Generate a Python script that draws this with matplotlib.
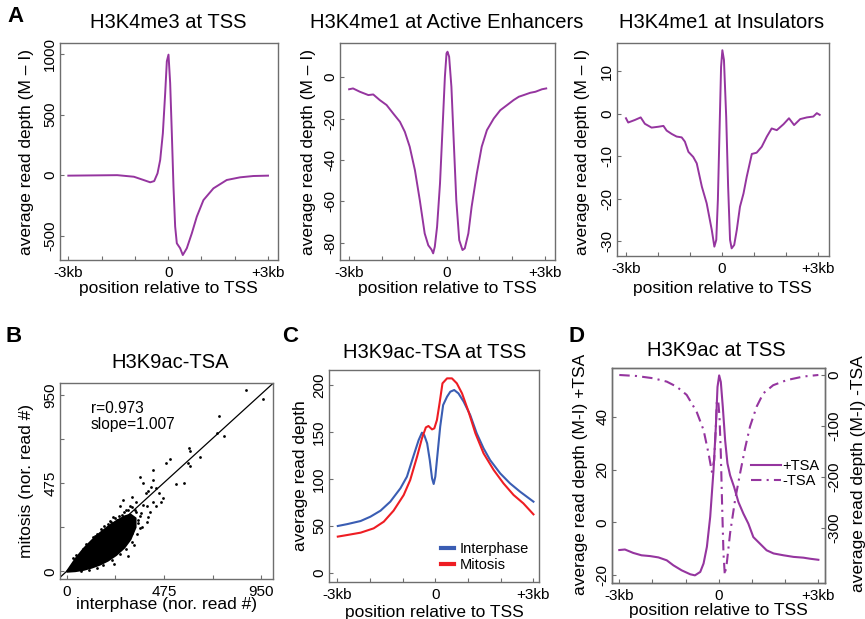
import matplotlib
matplotlib.use("Agg")
import matplotlib.pyplot as plt
from matplotlib.lines import Line2D

plt.rcParams["font.family"] = ["Liberation Sans", "DejaVu Sans"]

W, H = 865, 619
GREY = "#6e6e6e"
PURPLE = "#95359f"
BLUE = "#3a5db3"
RED = "#ee1d23"

# ---- panel A: M - I profiles, x in kb relative to the TSS ----
a1_kb = [-3.0, -1.53, -1.03, -0.74, -0.54, -0.42, -0.32, -0.24, -0.16, -0.09, -0.04,
         0.01, 0.06, 0.11, 0.16, 0.21, 0.26, 0.36, 0.44, 0.56, 0.71, 0.86, 1.06,
         1.36, 1.76, 2.16, 2.56, 3.0]
a1_val = [-5, -1, -14, -41, -60, -50, 14, 124, 344, 675, 940,
          995, 760, 344, -98, -426, -564, -605, -661, -605, -482, -344, -207,
          -110, -41, -19, -8, -5]

a2_kb = [-3.0, -2.88, -2.67, -2.41, -2.26, -2.06, -1.85, -1.65, -1.44, -1.29, -1.14,
         -0.98, -0.83, -0.68, -0.57, -0.47, -0.42, -0.37, -0.30, -0.21, -0.13, -0.06,
         -0.01, 0.02, 0.07, 0.14, 0.21, 0.29, 0.38, 0.48, 0.55, 0.66, 0.76, 0.92,
         1.07, 1.23, 1.44, 1.64, 1.85, 2.05, 2.21, 2.36, 2.56, 2.72, 2.92, 3.05]
a2_val = [-5.9, -5.5, -7.1, -8.7, -8.4, -11.1, -13.5, -17.5, -21.6, -26.4, -33.6,
          -44.9, -59.4, -75.4, -81.1, -83.2, -85.0, -81.8, -72.2, -51.3, -24.0, 0.1,
          11.4, 12.2, 9.8, -4.7, -30.4, -59.4, -78.6, -83.4, -82.6, -75.4, -62.6, -46.5,
          -33.6, -25.6, -20.0, -16.0, -13.5, -11.1, -9.5, -8.7, -7.6, -7.1, -5.9, -5.5]

a3_kb = [-3.0, -2.93, -2.72, -2.54, -2.41, -2.20, -1.99, -1.83, -1.73, -1.57, -1.42,
         -1.26, -1.16, -1.05, -0.90, -0.79, -0.63, -0.48, -0.32, -0.24, -0.18, -0.13,
         -0.08, -0.03, 0.01, 0.06, 0.13, 0.19, 0.25, 0.30, 0.38, 0.46, 0.56, 0.67,
         0.77, 0.93, 1.08, 1.24, 1.40, 1.55, 1.71, 1.92, 2.09, 2.25, 2.44, 2.65,
         2.85, 2.96, 3.05]
a3_val = [-1.1, -2.1, -1.5, -0.9, -2.4, -3.3, -3.1, -2.9, -4.0, -4.8, -5.4,
          -5.6, -6.6, -9.0, -10.2, -11.7, -17.2, -21.1, -27.4, -31.3, -29.7, -20.3,
          -4.6, 11.0, 14.9, 12.6, -0.8, -17.2, -29.7, -31.7, -30.9, -27.4, -21.9, -18.8,
          -14.9, -9.5, -9.2, -7.8, -5.4, -3.5, -3.9, -2.5, -1.1, -2.7, -1.3, -0.9,
          -0.7, 0.1, -0.3]

# ---- panel B: H3K9ac-TSA, normalised read counts per region ----
# dense part of the cloud, read as lower / upper edge per interphase value
cloud_x = [0, 40, 80, 120, 160, 200, 240, 280, 310, 335]
cloud_lo = [0, 3, 10, 22, 38, 60, 90, 130, 175, 240]
cloud_hi = [5, 70, 125, 170, 210, 245, 275, 300, 310, 290]
# scattered regions around and beyond the cloud
pts_inter = [877, 958, 744, 767, 734, 650, 598, 601, 593, 604, 572, 536, 484, 507,
             422, 422, 398, 438, 463, 438, 471, 451, 414, 357, 373, 387, 325, 292,
             349, 365, 333, 309, 276, 317, 341, 373, 390, 406, 398, 422, 357, 317,
             390, 260, 227, 244,
             30, 45, 80, 95, 130, 150, 170, 200, 215, 235, 270, 290,
             70, 110, 150, 180, 220, 260, 290, 320, 345, 370,
             350, 360, 300, 320, 280, 340, 255, 210, 185, 140, 230, 300, 330]
pts_mito = [977, 929, 837, 730, 744, 618, 663, 651, 583, 570, 475, 471, 586, 604,
            547, 493, 436, 448, 376, 350, 394, 421, 457, 511, 475, 421, 269, 224,
            278, 314, 332, 350, 385, 403, 376, 358, 350, 323, 296, 376, 233, 206,
            269, 350, 296, 278,
            70, 90, 120, 150, 185, 200, 230, 255, 265, 290, 305, 330,
            0, 10, 20, 35, 60, 95, 120, 160, 200, 240,
            260, 300, 330, 345, 320, 320, 300, 270, 245, 190, 40, 85, 140]
b_r = 0.973
b_slope = 1.007

# ---- panel C: H3K9ac-TSA at TSS ----
c_inter_kb = [-2.99, -2.70, -2.29, -1.99, -1.68, -1.38, -1.07, -0.87, -0.66, -0.51, -0.41,
              -0.34, -0.25, -0.17, -0.10, -0.05, 0.00, 0.07, 0.15, 0.24, 0.36, 0.46,
              0.58, 0.71, 0.87, 1.07, 1.27, 1.48, 1.68, 1.99, 2.29, 2.60, 3.01]
c_inter = [50.0, 52.0, 55.3, 59.9, 66.3, 75.9, 90.1, 102.5, 125.5, 141.5, 149.3,
           146.8, 137.9, 120.2, 100.7, 94.7, 102.5, 127.3, 155.7, 178.7, 187.6, 192.9,
           194.7, 191.1, 182.3, 168.1, 148.6, 132.6, 120.2, 106.0, 95.4, 86.5, 75.9]
c_mito_kb = [-2.99, -2.70, -2.29, -1.89, -1.58, -1.28, -0.97, -0.77, -0.56, -0.41, -0.29,
             -0.21, -0.10, -0.03, 0.05, 0.13, 0.22, 0.36, 0.51, 0.66, 0.82, 1.02,
             1.23, 1.48, 1.79, 2.09, 2.40, 2.70, 3.01]
c_mito = [38.7, 40.4, 42.9, 47.5, 54.6, 66.3, 82.9, 98.9, 123.7, 143.2, 154.9,
          156.4, 152.8, 153.9, 162.8, 180.5, 201.8, 207.1, 207.1, 201.8, 191.1, 171.6,
          148.6, 127.3, 109.6, 95.4, 83.0, 74.1, 62.4]

# ---- panel D: H3K9ac M - I with and without TSA ----
d_plus_kb = [-3.0, -2.83, -2.58, -2.33, -2.07, -1.82, -1.57, -1.37, -1.12, -0.86, -0.72,
             -0.56, -0.46, -0.36, -0.26, -0.16, -0.09, -0.04, 0.01, 0.06, 0.12, 0.19,
             0.26, 0.34, 0.46, 0.59, 0.74, 0.89, 1.04, 1.24, 1.44, 1.65, 1.95, 2.25,
             2.55, 2.75, 3.0]
d_plus = [-10.5, -10.3, -11.6, -12.5, -12.8, -13.3, -14.4, -16.3, -18.2, -19.7, -20.1,
          -18.8, -15.6, -9.3, 2.1, 19.8, 36.2, 51.3, 55.7, 53.2, 43.7, 31.1,
          22.3, 17.8, 13.4, 7.7, 3.3, -0.5, -5.6, -8.1, -10.6, -11.8, -12.5, -13.1,
          -13.4, -13.8, -14.2]
d_minus_kb = [-3.0, -2.48, -1.97, -1.57, -1.27, -0.97, -0.67, -0.46, -0.31, -0.21, -0.14,
              -0.09, -0.06, -0.02, 0.02, 0.06, 0.10, 0.14, 0.18, 0.24, 0.34, 0.49,
              0.64, 0.79, 0.94, 1.14, 1.34, 1.64, 2.05, 2.55, 3.0]
d_minus = [0, -2, -6.5, -13, -23, -39, -72, -108, -154, -190, -167,
           -101, -52, -49, -82, -154, -258, -350, -392, -369, -310, -245,
           -193, -144, -101, -62, -36, -20, -10, -3, 0]

kb_ticks = [-3, 0, 3]
kb_labels = ["-3kb", "0", "+3kb"]

fig = plt.figure(figsize=(W / 100, H / 100), dpi=100)


def add_ax(left, top, right, bottom):
    return fig.add_axes([left / W, 1 - bottom / H, (right - left) / W, (bottom - top) / H])


def ftext(x, y, s, **kw):
    kw.setdefault("ha", "center")
    kw.setdefault("va", "center")
    fig.text(x / W, 1 - y / H, s, **kw)


def style(ax, yticks, ylabels, xminor=None, yminor=None):
    for sp in ax.spines.values():
        sp.set_color(GREY)
        sp.set_linewidth(1.0)
    ax.set_yticks(yticks, ylabels)
    if xminor is not None:
        ax.set_xticks(xminor, minor=True)
    if yminor is not None:
        ax.set_yticks(yminor, minor=True)
    ax.tick_params(which="both", direction="in", length=3, width=0.8, color=GREY,
                   labelsize=11, pad=4)
    ax.tick_params(axis="y", which="both", pad=2)
    plt.setp(ax.get_yticklabels(), rotation=90, va="center")


def profile(ax, kb, val):
    ax.plot(kb, val, color=PURPLE, lw=1.4)
    ax.set_xticks(kb_ticks, kb_labels)


# ---------------- row A ----------------
ax1 = add_ax(60, 43, 278, 260)
profile(ax1, a1_kb, a1_val)
ax1.set_xlim(-3.25, 3.3)
ax1.set_ylim(-702, 1091)
style(ax1, [-500, 0, 500, 1000], ["-500", "0", "500", "1000"], xminor=[-2, -1, 1, 2])

ax2 = add_ax(340, 43, 555, 260)
profile(ax2, a2_kb, a2_val)
ax2.set_xlim(-3.28, 3.32)
ax2.set_ylim(-88.2, 16.4)
style(ax2, [-80, -60, -40, -20, 0], ["-80", "-60", "-40", "-20", "0"],
      xminor=[-2, -1, 1, 2])

ax3 = add_ax(617, 43, 829, 256)
profile(ax3, a3_kb, a3_val)
ax3.set_xlim(-3.28, 3.34)
ax3.set_ylim(-33.5, 16.6)
style(ax3, [-30, -20, -10, 0, 10], ["-30", "-20", "-10", "0", "10"],
      xminor=[-2, -1, 1, 2])

for cx, title in [(168, "H3K4me3 at TSS"), (447, "H3K4me1 at Active Enhancers"),
                  (722, "H3K4me1 at Insulators")]:
    ftext(cx, 22, title, fontsize=14.5)
for cx in [168, 447, 722]:
    ftext(cx, 289, "position relative to TSS", fontsize=12.5)
for cx in [27, 308, 583]:
    ftext(cx, 152, "average read depth (M \u2013 I)", fontsize=12.5, rotation=90)

# ---------------- B ----------------
axb = add_ax(60, 383, 273, 579)
axb.fill_between(cloud_x, cloud_lo, cloud_hi, color="black", lw=1.2, edgecolor="black")
axb.scatter(pts_inter, pts_mito, s=4, color="black", linewidths=0)
axb.axline((0, 0), slope=b_slope, color="black", lw=0.9)
axb.set_xlim(-32, 1007)
axb.set_ylim(-41, 1016)
axb.set_xticks([0, 475, 950], ["0", "475", "950"])
style(axb, [0, 475, 950], ["0", "475", "950"], xminor=[237.5, 712.5], yminor=[237.5, 712.5])
axb.text(0.145, 0.87, f"r={b_r}", transform=axb.transAxes, fontsize=11.2, va="center")
axb.text(0.145, 0.79, f"slope={b_slope:.3f}", transform=axb.transAxes, fontsize=11.2,
         va="center")
ftext(170, 363, "H3K9ac-TSA", fontsize=14.5)
ftext(167, 605, "interphase (nor. read #)", fontsize=12.5)
ftext(27, 481, "mitosis (nor. read #)", fontsize=12.5, rotation=90)

# ---------------- C ----------------
axc = add_ax(329, 370, 539, 582)
axc.plot(c_inter_kb, c_inter, color=BLUE, lw=1.5, label="Interphase")
axc.plot(c_mito_kb, c_mito, color=RED, lw=1.5, label="Mitosis")
axc.set_xlim(-3.26, 3.18)
axc.set_ylim(-9.6, 216)
axc.set_xticks(kb_ticks, kb_labels)
style(axc, [0, 50, 100, 150, 200], ["0", "50", "100", "150", "200"], xminor=[-2, -1, 1, 2])
leg = axc.legend(loc="lower right", bbox_to_anchor=(1.0, 0.0), frameon=False, fontsize=10.5,
                 handlelength=0.9, handletextpad=0.35, labelspacing=0.15, borderaxespad=0.3)
for h in leg.legend_handles:
    h.set_linewidth(3)
ftext(435, 352, "H3K9ac-TSA at TSS", fontsize=14.5)
ftext(434, 612, "position relative to TSS", fontsize=12.5)
ftext(300, 476, "average read depth", fontsize=12.5, rotation=90)

# ---------------- D ----------------
axd = add_ax(612, 368, 825, 583)
axd.plot(d_plus_kb, d_plus, color=PURPLE, lw=1.5)
axd.set_xlim(-3.22, 3.2)
axd.set_ylim(-23.0, 58.5)
axd.set_xticks(kb_ticks, kb_labels)
style(axd, [-20, 0, 20, 40], ["-20", "0", "20", "40"], xminor=[-2, -1, 1, 2])
axd2 = axd.twinx()
dashdot = (0, (5, 2.5, 1, 2.5))
axd2.plot(d_minus_kb, d_minus, color=PURPLE, lw=1.5, ls=dashdot)
axd2.set_ylim(-408, 13.7)
style(axd2, [-300, -200, -100, 0], ["-300", "-200", "-100", "0"])
handles = [Line2D([0], [0], color=PURPLE, lw=1.5, label="+TSA"),
           Line2D([0], [0], color=PURPLE, lw=1.5, ls=dashdot, label="-TSA")]
axd2.legend(handles=handles, loc="center right", bbox_to_anchor=(1.0, 0.51), frameon=False,
            fontsize=10.5, handlelength=2.0, handletextpad=0.1, labelspacing=0.1,
            borderaxespad=0.0)
ftext(716, 350, "H3K9ac at TSS", fontsize=14.5)
ftext(718, 610, "position relative to TSS", fontsize=12.5)
ftext(580, 474, "average read depth (M-I) +TSA", fontsize=12.5, rotation=90)
ftext(858, 474, "average read depth (M-I) -TSA", fontsize=12.5, rotation=90)

# panel letters
for x, y, s in [(16, 17, "A"), (14, 337, "B"), (290, 337, "C"), (576, 337, "D")]:
    ftext(x, y, s, fontsize=16, fontweight="bold")

fig.savefig("out.png", dpi=100)
